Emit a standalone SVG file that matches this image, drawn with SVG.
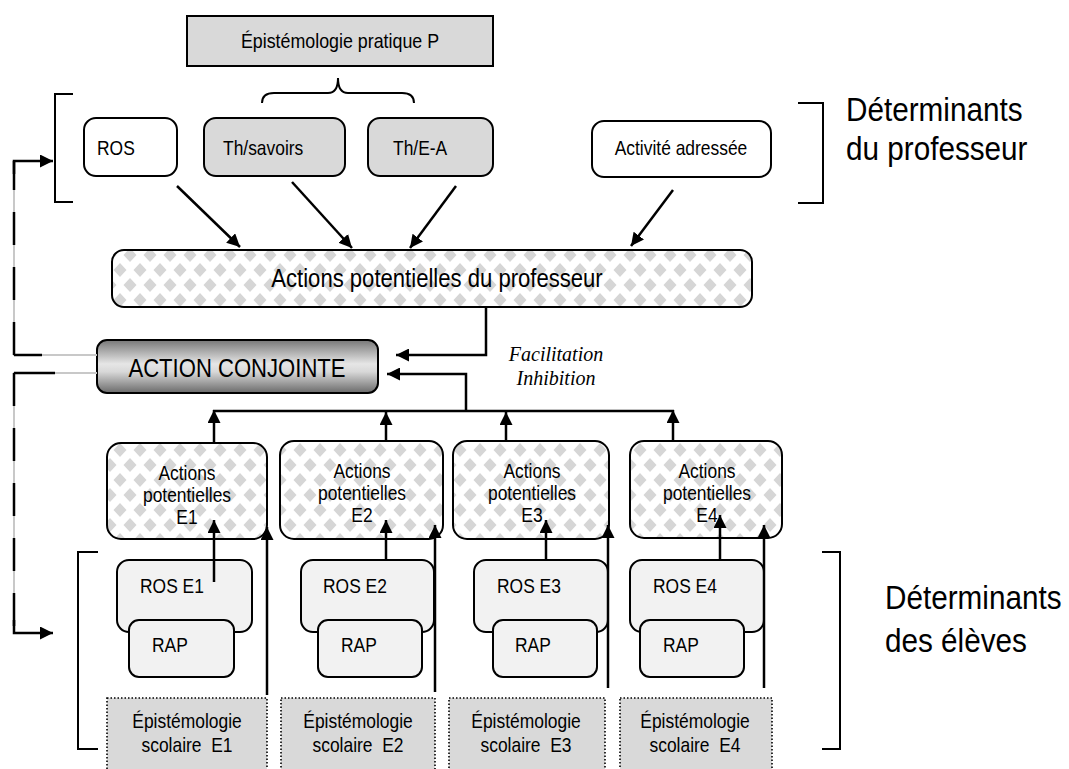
<svg xmlns="http://www.w3.org/2000/svg" width="1069" height="769" viewBox="0 0 1069 769">
<style>
.box{stroke:#000;stroke-width:2}
.w{fill:#fff}
.g{fill:#d9d9d9}
.lg{fill:#f2f2f2}
.pat{fill:url(#dia)}
.dot{fill:#d9d9d9;stroke:#000;stroke-width:1.6;stroke-dasharray:1.5 2}
.t{font-family:"Liberation Sans",Arial,sans-serif;fill:#000;white-space:pre}
.s20{font-size:20.5px}
.s21{font-size:21px}
.s26{font-size:26px}
.big{font-size:33px}
.it{font-family:"Liberation Serif","Times New Roman",serif;font-style:italic;font-size:20px;fill:#000}
.ln{fill:none;stroke:#000;stroke-width:2.5}
.br{fill:none;stroke:#000;stroke-width:2}
.gray{fill:none;stroke:#c8c8c8;stroke-width:2}
.dash{fill:none;stroke:#000;stroke-width:2.5;stroke-dasharray:33 22}
</style>
<defs>
<marker id="ah" viewBox="0 0 12 12" refX="12" refY="6" markerWidth="13" markerHeight="13" markerUnits="userSpaceOnUse" orient="auto">
<path d="M0,0 L12,6 L0,12 z" fill="#000"/>
</marker>
<pattern id="dia" width="20" height="30" patternUnits="userSpaceOnUse">
<rect width="20" height="30" fill="#fff"/>
<path d="M10,8 L16.5,15 L10,22 L3.5,15Z M0,-7 L6.5,0 L0,7 L-6.5,0Z M20,-7 L26.5,0 L20,7 L13.5,0Z M0,23 L6.5,30 L0,37 L-6.5,30Z M20,23 L26.5,30 L20,37 L13.5,30Z" fill="#d6d6d6"/>
</pattern>
<linearGradient id="gr" x1="0" y1="0" x2="0" y2="1">
<stop offset="0" stop-color="#777"/>
<stop offset="0.45" stop-color="#e6e6e6"/>
<stop offset="0.6" stop-color="#d8d8d8"/>
<stop offset="1" stop-color="#6a6a6a"/>
</linearGradient>
</defs>

<g id="brackets">
<path class="br" d="M73,94 H55 V202 H73"/>
<path class="br" d="M798,103 H823 V203 H798"/>
<path class="br" d="M98,552 H78 V749 H98"/>
<path class="br" d="M822,552 H840 V749 H822"/>
<path class="br" d="M262,103 Q262,93 274,93 L328,93 Q338,93 338,78 Q338,93 348,93 L402,93 Q414,93 414,103"/>
</g>

<g id="epist-pratique">
<rect class="box g" x="187" y="16" width="306" height="50"/>
<text class="t s21" text-anchor="middle" transform="translate(340,48) scale(0.85,1)">Épistémologie pratique P</text>
</g>
<g id="ros">
<rect class="box w" x="84" y="118" width="93" height="58" rx="12"/>
<text class="t s20" transform="translate(97,155) scale(0.85,1)">ROS</text>
</g>
<g id="th-savoirs">
<rect class="box g" x="204" y="118" width="141" height="58" rx="12"/>
<text class="t s20" transform="translate(223,155) scale(0.85,1)">Th/savoirs</text>
</g>
<g id="th-ea">
<rect class="box g" x="368" y="118" width="125" height="58" rx="12"/>
<text class="t s20" transform="translate(393,155) scale(0.85,1)">Th/E-A</text>
</g>
<g id="activite">
<rect class="box w" x="592" y="121" width="179" height="56" rx="12"/>
<text class="t s20" text-anchor="middle" transform="translate(681,155) scale(0.85,1)">Activité adressée</text>
</g>
<g id="label-prof">
<text class="t big" transform="translate(846,121) scale(0.9,1)">Déterminants</text>
<text class="t big" transform="translate(846,160) scale(0.9,1)">du professeur</text>
</g>

<g id="actions-prof">
<rect class="box pat" x="112" y="250" width="640" height="57" rx="12"/>
<text class="t s26" text-anchor="middle" transform="translate(437,287) scale(0.85,1)">Actions potentielles du professeur</text>
</g>
<g id="action-conjointe">
<rect class="box" fill="url(#gr)" x="97" y="340" width="281" height="53" rx="10"/>
<text class="t s26" text-anchor="middle" transform="translate(237,377) scale(0.85,1)">ACTION CONJOINTE</text>
</g>
<g id="facilitation">
<text class="it" text-anchor="middle" x="556" y="361">Facilitation</text>
<text class="it" text-anchor="middle" x="556" y="385">Inhibition</text>
</g>

<g id="ape1">
<rect class="box pat" x="107" y="443" width="160" height="96" rx="14"/>
<text class="t s20" text-anchor="middle" transform="translate(187,480) scale(0.85,1)">Actions</text>
<text class="t s20" text-anchor="middle" transform="translate(187,502) scale(0.85,1)">potentielles</text>
<text class="t s20" text-anchor="middle" transform="translate(187,524) scale(0.85,1)">E1</text>
</g>
<g id="ape2">
<rect class="box pat" x="280" y="441" width="163" height="98" rx="14"/>
<text class="t s20" text-anchor="middle" transform="translate(362,478) scale(0.85,1)">Actions</text>
<text class="t s20" text-anchor="middle" transform="translate(362,500) scale(0.85,1)">potentielles</text>
<text class="t s20" text-anchor="middle" transform="translate(362,522) scale(0.85,1)">E2</text>
</g>
<g id="ape3">
<rect class="box pat" x="453" y="441" width="156" height="98" rx="14"/>
<text class="t s20" text-anchor="middle" transform="translate(532,478) scale(0.85,1)">Actions</text>
<text class="t s20" text-anchor="middle" transform="translate(532,500) scale(0.85,1)">potentielles</text>
<text class="t s20" text-anchor="middle" transform="translate(532,522) scale(0.85,1)">E3</text>
</g>
<g id="ape4">
<rect class="box pat" x="630" y="441" width="152" height="97" rx="14"/>
<text class="t s20" text-anchor="middle" transform="translate(707,478) scale(0.85,1)">Actions</text>
<text class="t s20" text-anchor="middle" transform="translate(707,500) scale(0.85,1)">potentielles</text>
<text class="t s20" text-anchor="middle" transform="translate(707,522) scale(0.85,1)">E4</text>
</g>

<g id="ros-e1">
<rect class="box lg" x="117" y="560" width="135" height="72" rx="12"/>
<text class="t s20" transform="translate(140,593) scale(0.85,1)">ROS E1</text>
</g>
<g id="rap-e1">
<rect class="box lg" x="129" y="620" width="105" height="57" rx="10"/>
<text class="t s20" transform="translate(152,652) scale(0.85,1)">RAP</text>
</g>
<g id="ros-e2">
<rect class="box lg" x="301" y="560" width="133" height="72" rx="12"/>
<text class="t s20" transform="translate(323,593) scale(0.85,1)">ROS E2</text>
</g>
<g id="rap-e2">
<rect class="box lg" x="318" y="620" width="104" height="57" rx="10"/>
<text class="t s20" transform="translate(341,652) scale(0.85,1)">RAP</text>
</g>
<g id="ros-e3">
<rect class="box lg" x="474" y="560" width="134" height="72" rx="12"/>
<text class="t s20" transform="translate(497,593) scale(0.85,1)">ROS E3</text>
</g>
<g id="rap-e3">
<rect class="box lg" x="493" y="620" width="104" height="57" rx="10"/>
<text class="t s20" transform="translate(515,652) scale(0.85,1)">RAP</text>
</g>
<g id="ros-e4">
<rect class="box lg" x="630" y="560" width="134" height="72" rx="12"/>
<text class="t s20" transform="translate(653,593) scale(0.85,1)">ROS E4</text>
</g>
<g id="rap-e4">
<rect class="box lg" x="640" y="620" width="104" height="57" rx="10"/>
<text class="t s20" transform="translate(663,652) scale(0.85,1)">RAP</text>
</g>

<g id="es1">
<rect class="dot" x="107" y="698" width="160" height="75"/>
<text class="t s20" text-anchor="middle" transform="translate(187,728) scale(0.85,1)">Épistémologie</text>
<text class="t s20" text-anchor="middle" transform="translate(187,752) scale(0.85,1)">scolaire  E1</text>
</g>
<g id="es2">
<rect class="dot" x="281" y="698" width="154" height="75"/>
<text class="t s20" text-anchor="middle" transform="translate(358,728) scale(0.85,1)">Épistémologie</text>
<text class="t s20" text-anchor="middle" transform="translate(358,752) scale(0.85,1)">scolaire  E2</text>
</g>
<g id="es3">
<rect class="dot" x="449" y="698" width="156" height="75"/>
<text class="t s20" text-anchor="middle" transform="translate(526,728) scale(0.85,1)">Épistémologie</text>
<text class="t s20" text-anchor="middle" transform="translate(526,752) scale(0.85,1)">scolaire  E3</text>
</g>
<g id="es4">
<rect class="dot" x="620" y="698" width="152" height="75"/>
<text class="t s20" text-anchor="middle" transform="translate(695,728) scale(0.85,1)">Épistémologie</text>
<text class="t s20" text-anchor="middle" transform="translate(695,752) scale(0.85,1)">scolaire  E4</text>
</g>

<g id="label-eleves">
<text class="t big" transform="translate(885,609) scale(0.9,1)">Déterminants</text>
<text class="t big" transform="translate(885,652) scale(0.9,1)">des élèves</text>
</g>

<g id="connectors">
<line class="ln" x1="177" y1="186" x2="240" y2="247" marker-end="url(#ah)"/>
<line class="ln" x1="292" y1="182" x2="352" y2="248" marker-end="url(#ah)"/>
<line class="ln" x1="456" y1="186" x2="410" y2="248" marker-end="url(#ah)"/>
<line class="ln" x1="673" y1="190" x2="631" y2="246" marker-end="url(#ah)"/>
<path class="ln" d="M486,307 V355 H396" marker-end="url(#ah)"/>
<path class="ln" d="M466,411 V374 H387" marker-end="url(#ah)"/>
<line class="ln" x1="213" y1="411" x2="674" y2="411"/>
<line class="ln" x1="214" y1="443" x2="214" y2="410" marker-end="url(#ah)"/>
<line class="ln" x1="386" y1="441" x2="386" y2="412" marker-end="url(#ah)"/>
<line class="ln" x1="506" y1="441" x2="506" y2="412" marker-end="url(#ah)"/>
<line class="ln" x1="673" y1="441" x2="673" y2="410" marker-end="url(#ah)"/>
<line class="ln" x1="214" y1="582" x2="214" y2="520" marker-end="url(#ah)"/>
<line class="ln" x1="386" y1="560" x2="386" y2="520" marker-end="url(#ah)"/>
<line class="ln" x1="546" y1="560" x2="546" y2="520" marker-end="url(#ah)"/>
<line class="ln" x1="720" y1="560" x2="720" y2="515" marker-end="url(#ah)"/>
<line class="ln" x1="267" y1="695" x2="267" y2="527" marker-end="url(#ah)"/>
<line class="ln" x1="435" y1="692" x2="435" y2="525" marker-end="url(#ah)"/>
<line class="ln" x1="608" y1="688" x2="608" y2="525" marker-end="url(#ah)"/>
<line class="ln" x1="764" y1="688" x2="764" y2="525" marker-end="url(#ah)"/>
<path class="gray" d="M97,355 H14 V161 H42"/>
<path class="dash" d="M14,355 V161"/>
<path class="ln" d="M14,355 H42"/>
<path class="ln" d="M14,174 V161 H53" marker-end="url(#ah)"/>
<path class="gray" d="M97,373 H14 V633 H42"/>
<path class="dash" d="M14,373 V633"/>
<path class="ln" d="M55,373 H14"/>
<path class="ln" d="M14,620 V633 H53" marker-end="url(#ah)"/>
</g>
</svg>
